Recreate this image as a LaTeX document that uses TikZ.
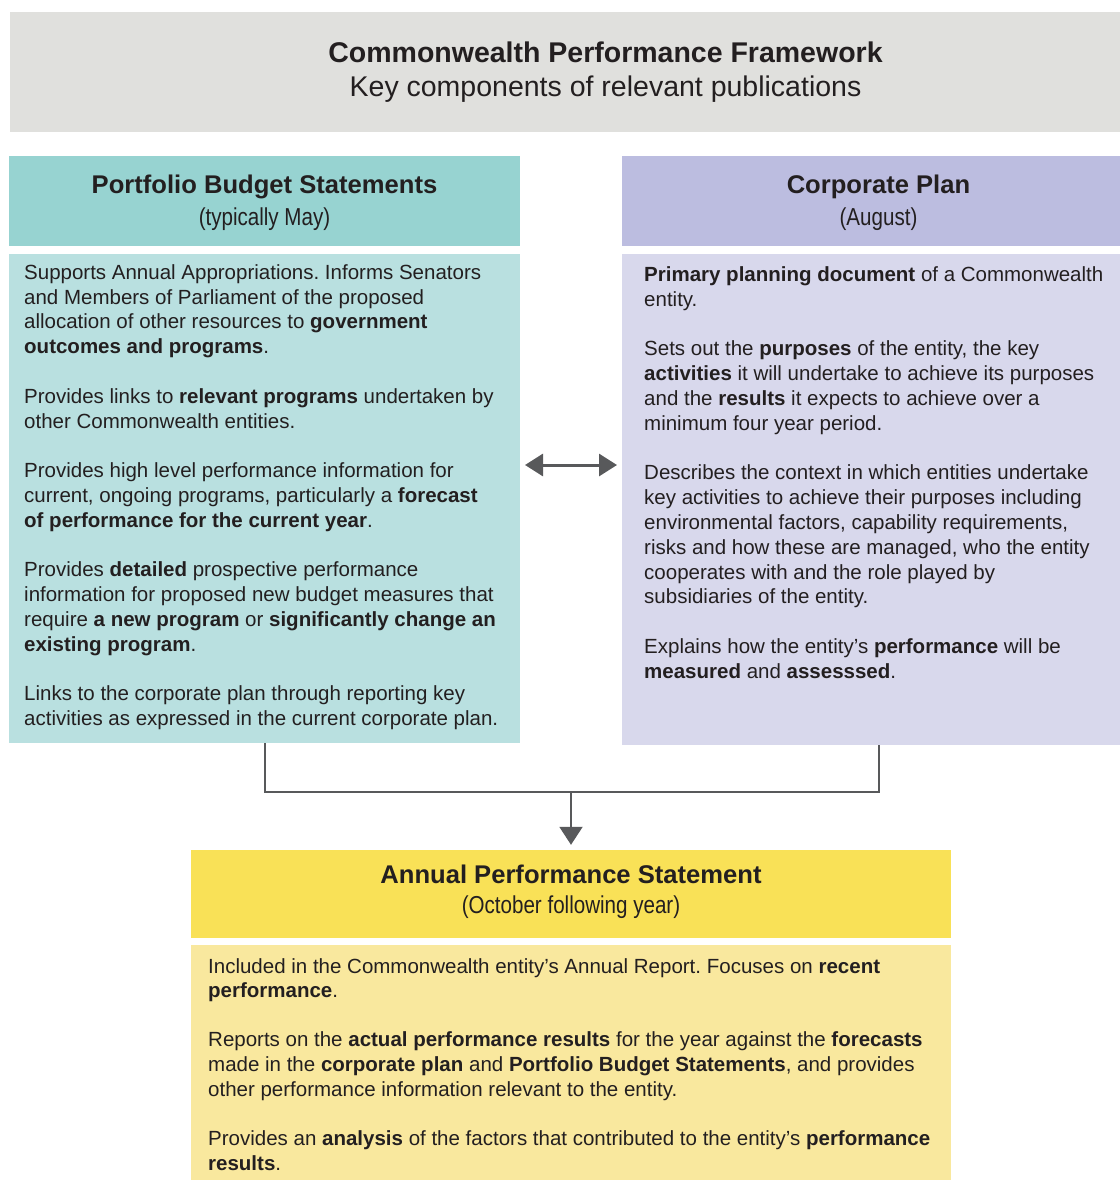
\documentclass[tikz,border=0pt]{standalone}
\usepackage{fontspec}
\setmainfont{Liberation Sans}
\newfontfamily\condfont[FakeStretch=0.84]{Liberation Sans}
\usetikzlibrary{arrows.meta}
\definecolor{titlegray}{HTML}{E0E0DD}
\definecolor{pbshead}{HTML}{97D3D1}
\definecolor{pbsbody}{HTML}{B9E0E0}
\definecolor{cphead}{HTML}{BCBDE0}
\definecolor{cpbody}{HTML}{D8D8EC}
\definecolor{apshead}{HTML}{F9E157}
\definecolor{apsbody}{HTML}{F9E89E}
\definecolor{inkgray}{HTML}{231F20}
\definecolor{linkgray}{HTML}{58595B}
\newcommand{\gap}{\\[\baselineskip]}
\frenchspacing

\begin{document}
\begin{tikzpicture}[x=1pt,y=-1pt,
    every node/.style={text=inkgray,inner sep=0pt},
    panel/.style={rectangle,draw=none,minimum width=#1},
    head/.style={anchor=base,font=\bfseries\fontsize{25.6}{30}\selectfont},
    date/.style={anchor=base,font=\condfont\fontsize{24.5}{30}\selectfont},
    body/.style={anchor=base west,align=left,font=\fontsize{20.5}{24.8}\selectfont},
    link/.style={draw=linkgray,line width=2pt}]
  \useasboundingbox (0,0) rectangle (1119,1180);

  % title band
  \node[panel=1191,fill=titlegray,minimum height=120] (top) at (605.5,72) {};
  \node[anchor=base,font=\bfseries\fontsize{28.5}{34}\selectfont] (toptitle) at (605.5,62.7) {Commonwealth Performance Framework};
  \node[anchor=base,font=\fontsize{28.5}{34}\selectfont] (topsub) at (605.5,96.7) {Key components of relevant publications};

  % boxes
  \node[panel=511,fill=pbshead,minimum height=90] (pbs) at (264.5,201) {};
  \node[panel=511,fill=pbsbody,minimum height=489] (pbsbox) at (264.5,498.5) {};
  \node[panel=513,fill=cphead,minimum height=90] (cp) at (878.5,201) {};
  \node[panel=513,fill=cpbody,minimum height=491] (cpbox) at (878.5,499.5) {};
  \node[panel=760,fill=apshead,minimum height=88] (aps) at (571,894) {};
  \node[panel=760,fill=apsbody,minimum height=235] (apsbox) at (571,1062.5) {};

  \node[head] (pbstitle) at (264.5,193.3) {Portfolio Budget Statements};
  \node[date] (pbsdate) at (264.5,225) {(typically May)};
  \node[head] (cptitle) at (878.5,193.3) {Corporate Plan};
  \node[date] (cpdate) at (878.5,225) {(August)};
  \node[head] (apstitle) at (571,883.3) {Annual Performance Statement};
  \node[date] (apsdate) at (571,913.5) {(October following year)};

  % body texts sit on the baseline of their last line
  \node[body] (pbstext) at (24,725.7) {Supports Annual Appropriations. Informs Senators\\
    and Members of Parliament of the proposed\\
    allocation of other resources to \textbf{government}\\
    \textbf{outcomes and programs}.\gap
    Provides links to \textbf{relevant programs} undertaken by\\
    other Commonwealth entities.\gap
    Provides high level performance information for\\
    current, ongoing programs, particularly a \textbf{forecast}\\
    \textbf{of performance for the current year}.\gap
    Provides \textbf{detailed} prospective performance\\
    information for proposed new budget measures that\\
    require \textbf{a new program} or \textbf{significantly change an}\\
    \textbf{existing program}.\gap
    Links to the corporate plan through reporting key\\
    activities as expressed in the current corporate plan.};

  \node[body] (cptext) at (644,678.3) {\textbf{Primary planning document} of a Commonwealth\\
    entity.\gap
    Sets out the \textbf{purposes} of the entity, the key\\
    \textbf{activities} it will undertake to achieve its purposes\\
    and the \textbf{results} it expects to achieve over a\\
    minimum four year period.\gap
    Describes the context in which entities undertake\\
    key activities to achieve their purposes including\\
    environmental factors, capability requirements,\\
    risks and how these are managed, who the entity\\
    cooperates with and the role played by\\
    subsidiaries of the entity.\gap
    Explains how the entity’s \textbf{performance} will be\\
    \textbf{measured} and \textbf{assesssed}.};

  \node[body,font=\fontsize{20.5}{24.65}\selectfont] (apstext) at (208,1170.2) {Included in the Commonwealth entity’s Annual Report. Focuses on \textbf{recent}\\
    \textbf{performance}.\gap
    Reports on the \textbf{actual performance results} for the year against the \textbf{forecasts}\\
    made in the \textbf{corporate plan} and \textbf{Portfolio Budget Statements}, and provides\\
    other performance information relevant to the entity.\gap
    Provides an \textbf{analysis} of the factors that contributed to the entity’s \textbf{performance}\\
    \textbf{results}.};

  % connectors
  \coordinate (lt) at (525,465);
  \coordinate (rt) at (617,465);
  \draw[link,line width=3pt,{Triangle[length=18pt,width=22pt]}-{Triangle[length=18pt,width=22pt]}] (lt) -- (rt);

  \coordinate (merge) at (571,792);
  \draw[link] (pbsbox.south) |- (merge) -| (cpbox.south);
  \draw[link,-{Triangle[length=18pt,width=23pt]},shorten >=5pt] (merge) -- (aps.north);
\end{tikzpicture}
\end{document}
